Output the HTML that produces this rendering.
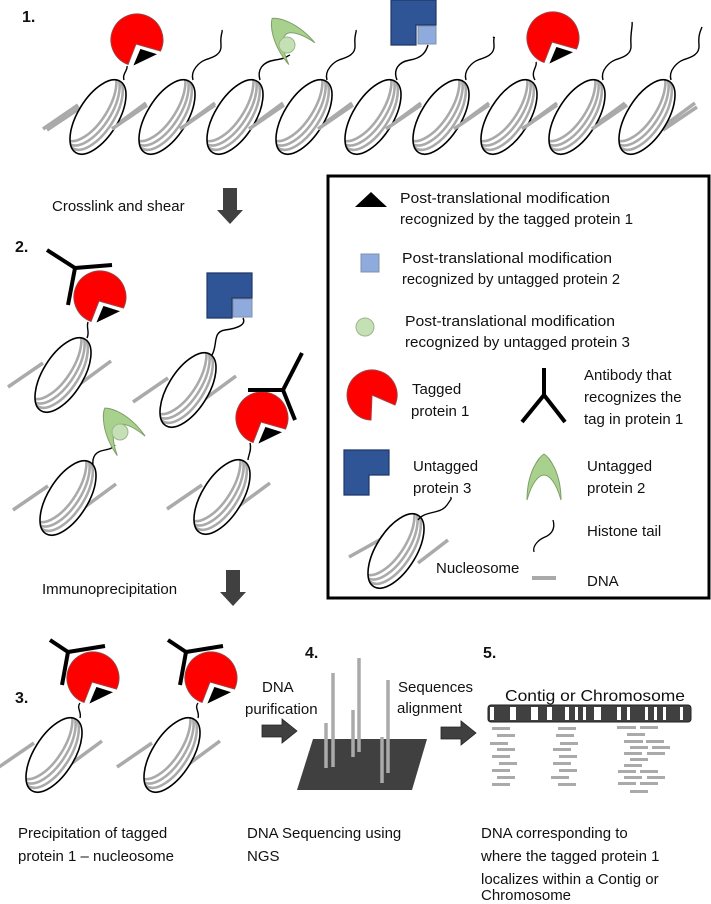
<!DOCTYPE html>
<html><head><meta charset="utf-8"><style>
html,body{margin:0;padding:0;background:#fff;}
svg{display:block;font-family:"Liberation Sans",sans-serif;}
text{font-size:15px;fill:#111;}
.b{font-weight:bold;font-size:16px;}
</style></head><body>
<svg width="711" height="904" viewBox="0 0 711 904" xmlns="http://www.w3.org/2000/svg">
<defs>
  <clipPath id="ec"><ellipse cx="0" cy="0" rx="20" ry="42" transform="rotate(32)"/></clipPath>
  <g id="core">
    <ellipse cx="0" cy="0" rx="20" ry="42" transform="rotate(32)" fill="#fff"/>
    <g clip-path="url(#ec)" fill="none" stroke="#aaa" stroke-width="2.6">
      <ellipse cx="-5" cy="-2" rx="20" ry="42" transform="rotate(32)"/>
      <ellipse cx="-10" cy="-4" rx="20" ry="42" transform="rotate(32)"/>
      <ellipse cx="-15" cy="-6" rx="20" ry="42" transform="rotate(32)"/>
    </g>
    <ellipse cx="0" cy="0" rx="20" ry="42" transform="rotate(32)" fill="none" stroke="#000" stroke-width="1.6"/>
  </g>
  <g id="nuc">
    <line x1="-55" y1="12" x2="-20" y2="-12" stroke="#aaa" stroke-width="3.5"/>
    <line x1="10" y1="14" x2="48" y2="-14" stroke="#aaa" stroke-width="3.5"/>
    <use href="#core"/>
  </g>
  <path id="pac" d="M-1,4 L23.5,11 A26,26 0 1,0 -8.9,24.4 Z" fill="#ff0000" stroke="#a04040" stroke-width="1"/>
  <path id="tri" d="M-5,27 L3,8 L22,14 Z" fill="#000" stroke="#fff" stroke-width="1.5"/>
  <g id="pacm"><use href="#pac"/><use href="#tri"/></g>
  <path id="blueL" d="M0,0 H45 V25 H25 V45 H0 Z" fill="#2f5597" stroke="#1f3864" stroke-width="1.2"/>
  <path id="cres" d="M-17,23 C-17,-5 -5,-20 0,-23 C5,-20 17,-5 17,23 C12,5 5,-2 0,-2 C-5,-2 -12,5 -17,23 Z" fill="#a9d18e" stroke="#7f9f6a" stroke-width="1"/>
  <path id="dnarrow" d="M-7,0 H7 V22 H13 L0,36 L-13,22 H-7 Z" fill="#404040"/>
  <path id="rarrow" d="M0,-6 H20 V-12 L35,0 L20,12 V6 H0 Z" fill="#404040" stroke="#222" stroke-width="0.8"/>
</defs>

<!-- ROW 1 -->
<text x="22" y="22" class="b">1.</text>
<line x1="47" y1="130" x2="80" y2="108" stroke="#aaa" stroke-width="3.5"/>
<line x1="663" y1="130" x2="697" y2="107" stroke="#aaa" stroke-width="3.5"/>
<g fill="none" stroke="#000" stroke-width="1.4">
  <path d="M124,80 C122,74 128,70 127,66"/>
  <path d="M193,80 C190,70 200,62 205,60 S222,56 221,45 S223,32 222,30"/>
  <path d="M260,80 C257,70 262,62 275,60 S285,57 290,55"/>
  <path d="M327,80 C324,70 334,62 339,60 S356,56 355,45 S357,32 356,30"/>
  <path d="M397,80 C393,70 398,62 410,60 S426,52 428,45"/>
  <path d="M466,80 C463,70 473,62 478,60 S495,56 494,45 S496,39 493,37"/>
  <path d="M535,80 C530,72 538,66 536,62"/>
  <path d="M603,80 C600,70 610,62 615,60 S632,56 631,45 S633,25 632,22"/>
  <path d="M671,80 C668,70 678,62 683,60 S700,56 699,45 S701,30 702,27"/>
</g>
<use href="#nuc" x="98" y="117"/>
<use href="#nuc" x="167" y="117"/>
<use href="#nuc" x="235" y="117"/>
<use href="#nuc" x="304" y="117"/>
<use href="#nuc" x="373" y="117"/>
<use href="#nuc" x="441" y="117"/>
<use href="#nuc" x="509" y="117"/>
<use href="#nuc" x="577" y="117"/>
<use href="#nuc" x="647" y="117"/>
<use href="#pacm" x="137" y="40"/>
<g transform="translate(287,36) rotate(-40)"><use href="#cres"/></g>
<circle cx="287" cy="45" r="8" fill="#c5e0b4" stroke="#9ab88a" stroke-width="1"/>
<use href="#blueL" x="391" y="0"/>
<rect x="418" y="26" width="18" height="18" fill="#8faadc" stroke="#8090a8" stroke-width="1"/>
<use href="#pacm" x="553" y="38"/>

<text x="52" y="211">Crosslink and shear</text>
<use href="#dnarrow" x="230" y="188"/>

<!-- ROW 2 -->
<text x="15" y="252" class="b">2.</text>
<g fill="none" stroke="#000" stroke-width="1.4">
  <path d="M88,322 C86,328 90,332 87,338"/>
  <path d="M243,318 C246,324 240,328 225,330 C212,332 218,345 212,355"/>
  <path d="M115,445 C110,452 100,448 95,455 C90,462 96,470 90,462"/>
  <path d="M250,443 C252,450 248,456 248,460"/>
</g>
<use href="#nuc" x="63" y="375"/>
<use href="#nuc" x="188" y="390"/>
<use href="#nuc" x="68" y="498"/>
<use href="#nuc" x="222" y="497"/>
<use href="#pacm" x="100" y="297"/>
<g stroke="#000" stroke-width="4" fill="none">
  <line x1="75" y1="268" x2="47" y2="250"/><line x1="75" y1="268" x2="112" y2="265"/><line x1="75" y1="268" x2="68" y2="305"/>
</g>
<use href="#blueL" x="207" y="273"/>
<rect x="233" y="299" width="19" height="18" fill="#8faadc" stroke="#8090a8" stroke-width="1"/>
<g transform="translate(118,427) rotate(-35)"><use href="#cres"/></g>
<circle cx="120" cy="432" r="8" fill="#c5e0b4" stroke="#9ab88a" stroke-width="1"/>
<use href="#pacm" x="262" y="418"/>
<g stroke="#000" stroke-width="4" fill="none">
  <line x1="283" y1="390" x2="248" y2="390"/><line x1="283" y1="390" x2="302" y2="353"/><line x1="283" y1="390" x2="295" y2="420"/>
</g>

<!-- LEGEND -->
<rect x="328" y="176" width="381" height="422" fill="none" stroke="#000" stroke-width="3"/>
<polygon points="355,207 371,192 387,207" fill="#000"/>
<text x="400" y="203" textLength="210" lengthAdjust="spacingAndGlyphs">Post-translational modification</text>
<text x="400" y="224" textLength="233" lengthAdjust="spacingAndGlyphs">recognized by the tagged protein 1</text>
<rect x="361" y="254" width="18" height="18" fill="#8faadc" stroke="#8090a8"/>
<text x="402" y="263" textLength="210" lengthAdjust="spacingAndGlyphs">Post-translational modification</text>
<text x="402" y="284" textLength="218" lengthAdjust="spacingAndGlyphs">recognized by untagged protein 2</text>
<circle cx="365" cy="327" r="9" fill="#c5e0b4" stroke="#9ab88a"/>
<text x="405" y="326" textLength="210" lengthAdjust="spacingAndGlyphs">Post-translational modification</text>
<text x="405" y="347" textLength="225" lengthAdjust="spacingAndGlyphs">recognized by untagged protein 3</text>
<path d="M372,395 L395,405 A25,25 0 1,0 371,420 Z" fill="#ff0000" stroke="#a04040" stroke-width="1"/>
<text x="412" y="394">Tagged</text>
<text x="411" y="416">protein 1</text>
<g stroke="#000" stroke-width="4" fill="none">
  <line x1="544" y1="368" x2="544" y2="395"/><line x1="544" y1="395" x2="522" y2="422"/><line x1="544" y1="395" x2="565" y2="422"/>
</g>
<text x="584" y="380">Antibody that</text>
<text x="584" y="402">recognizes the</text>
<text x="584" y="424">tag in protein 1</text>
<use href="#blueL" x="344" y="450"/>
<text x="413" y="471">Untagged</text>
<text x="413" y="493">protein 3</text>
<g transform="translate(544,477)"><use href="#cres"/></g>
<text x="587" y="471">Untagged</text>
<text x="587" y="493">protein 2</text>
<line x1="349" y1="557" x2="385" y2="537" stroke="#aaa" stroke-width="3.5"/>
<line x1="418" y1="563" x2="448" y2="540" stroke="#aaa" stroke-width="3.5"/>
<use href="#core" x="396" y="551"/>
<path d="M418,520 C425,510 440,515 447,505 S450,500 451,497" fill="none" stroke="#000" stroke-width="1.3"/>
<text x="436" y="573">Nucleosome</text>
<path d="M553,520 C556,530 550,535 545,537 S532,545 534,552" fill="none" stroke="#000" stroke-width="1.3"/>
<text x="587" y="536">Histone tail</text>
<line x1="532" y1="578" x2="556" y2="578" stroke="#aaa" stroke-width="4"/>
<text x="587" y="586">DNA</text>

<text x="42" y="594">Immunoprecipitation</text>
<use href="#dnarrow" x="233" y="570"/>

<!-- ROW 3 -->
<text x="15" y="703" class="b">3.</text>
<g fill="none" stroke="#000" stroke-width="1.4">
  <path d="M80,703 C76,708 82,712 80,718"/>
  <path d="M198,703 C194,708 200,712 198,718"/>
</g>
<use href="#nuc" x="54" y="755"/>
<use href="#nuc" x="172" y="755"/>
<use href="#pacm" x="93" y="678"/>
<use href="#pacm" x="211" y="678"/>
<g stroke="#000" stroke-width="4" fill="none">
  <line x1="68" y1="652" x2="50" y2="640"/><line x1="68" y1="652" x2="105" y2="646"/><line x1="68" y1="652" x2="62" y2="685"/>
  <line x1="186" y1="652" x2="168" y2="640"/><line x1="186" y1="652" x2="223" y2="646"/><line x1="186" y1="652" x2="180" y2="685"/>
</g>

<text x="305" y="658" class="b">4.</text>
<text x="262" y="692">DNA</text>
<text x="245" y="714">purification</text>
<use href="#rarrow" x="262" y="731"/>
<polygon points="313,739 427,739 412,790 297,790" fill="#404040"/>
<g stroke="#aaa" stroke-width="3.5">
  <line x1="326" y1="723" x2="326" y2="768"/>
  <line x1="333" y1="673" x2="333" y2="767"/>
  <line x1="353" y1="710" x2="353" y2="757"/>
  <line x1="359" y1="658" x2="359" y2="752"/>
  <line x1="382" y1="737" x2="382" y2="783"/>
  <line x1="388" y1="680" x2="388" y2="773"/>
</g>
<text x="398" y="692">Sequences</text>
<text x="397" y="713">alignment</text>
<use href="#rarrow" x="441" y="733"/>

<text x="483" y="658" class="b">5.</text>
<text x="505" y="701" style="font-size:16px" textLength="180" lengthAdjust="spacingAndGlyphs">Contig or Chromosome</text>
<rect x="488" y="705" width="203" height="17" rx="3" fill="#404040" stroke="#222" stroke-width="1"/>
<g fill="#fff">
  <rect x="490" y="707" width="4" height="13"/><rect x="510" y="707" width="6" height="13"/>
  <rect x="531" y="707" width="7" height="13"/><rect x="547" y="707" width="5" height="13"/>
  <rect x="565" y="707" width="4" height="13"/><rect x="575" y="707" width="3" height="13"/>
  <rect x="583" y="707" width="3" height="13"/><rect x="594" y="707" width="7" height="13"/>
  <rect x="617" y="707" width="4" height="13"/><rect x="627" y="707" width="3" height="13"/>
  <rect x="645" y="707" width="3" height="13"/><rect x="654" y="707" width="3" height="13"/>
  <rect x="663" y="707" width="3" height="13"/><rect x="680" y="707" width="3" height="13"/>
</g>
<g fill="#aaa">
  <rect x="492" y="727" width="18" height="3"/><rect x="497" y="734" width="18" height="3"/>
  <rect x="490" y="742" width="18" height="3"/><rect x="497" y="748" width="18" height="3"/>
  <rect x="492" y="755" width="18" height="3"/><rect x="499" y="762" width="18" height="3"/>
  <rect x="492" y="769" width="18" height="3"/><rect x="497" y="776" width="18" height="3"/>
  <rect x="492" y="783" width="18" height="3"/>
  <rect x="558" y="727" width="18" height="3"/><rect x="556" y="734" width="18" height="3"/>
  <rect x="560" y="742" width="18" height="3"/><rect x="553" y="748" width="18" height="3"/>
  <rect x="559" y="755" width="18" height="3"/><rect x="553" y="762" width="18" height="3"/>
  <rect x="559" y="769" width="18" height="3"/><rect x="551" y="776" width="18" height="3"/>
  <rect x="558" y="783" width="18" height="3"/>
  <rect x="617" y="726" width="19" height="3"/><rect x="640" y="726" width="18" height="3"/>
  <rect x="627" y="733" width="18" height="3"/>
  <rect x="624" y="740" width="19" height="3"/><rect x="646" y="740" width="18" height="3"/>
  <rect x="630" y="746" width="18" height="3"/><rect x="652" y="746" width="18" height="3"/>
  <rect x="624" y="752" width="18" height="3"/><rect x="647" y="752" width="18" height="3"/>
  <rect x="630" y="758" width="18" height="3"/>
  <rect x="624" y="764" width="18" height="3"/>
  <rect x="618" y="770" width="18" height="3"/><rect x="640" y="770" width="18" height="3"/>
  <rect x="624" y="776" width="18" height="3"/><rect x="647" y="776" width="18" height="3"/>
  <rect x="618" y="782" width="18" height="3"/><rect x="640" y="782" width="18" height="3"/>
  <rect x="630" y="790" width="18" height="3"/>
</g>

<text x="18" y="838">Precipitation of tagged</text>
<text x="18" y="861">protein 1 – nucleosome</text>
<text x="247" y="838">DNA Sequencing using</text>
<text x="247" y="861">NGS</text>
<text x="481" y="838">DNA corresponding to</text>
<text x="481" y="861">where  the tagged protein 1</text>
<text x="481" y="884">localizes within a Contig or</text>
<text x="481" y="900">Chromosome</text>
</svg>
</body></html>
